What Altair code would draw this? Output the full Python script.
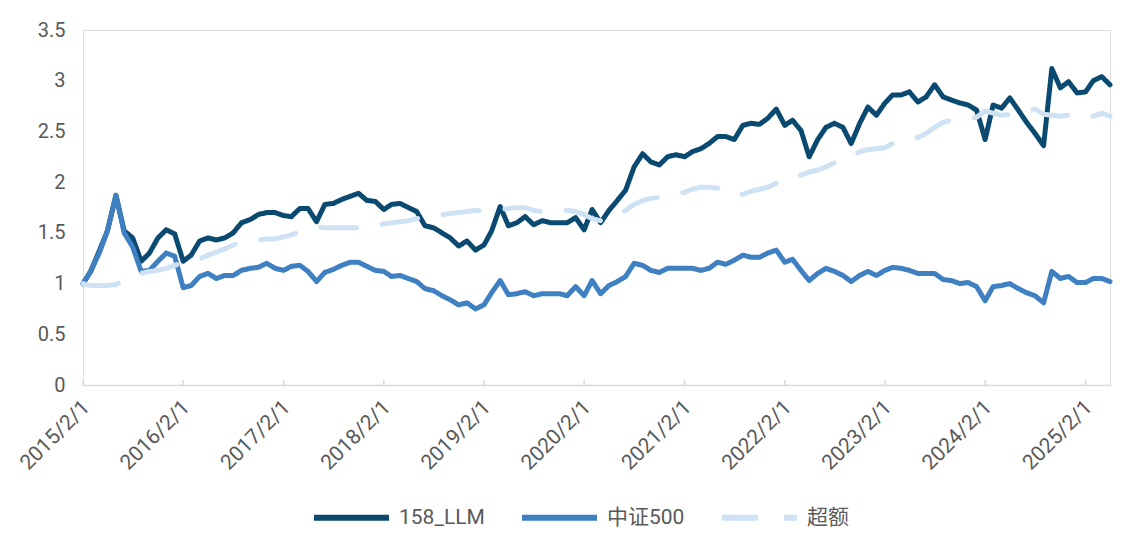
import altair as alt
import pandas as pd

# ---- data ----
start_date = "2015-02-01"
n_months = 124

series_names = ["158_LLM", "中证500", "超额"]
series_colors = ["#0B4A70", "#3F80C2", "#CFE2F3"]
series_dash = [[1, 0], [1, 0], [36, 26]]

llm = [1.00, 1.12, 1.32, 1.52, 1.87, 1.52, 1.45, 1.22, 1.30, 1.45, 1.53, 1.49,
       1.22, 1.28, 1.42, 1.45, 1.43, 1.45, 1.50, 1.60, 1.63, 1.68, 1.70, 1.70,
       1.67, 1.66, 1.74, 1.74, 1.61, 1.78, 1.79, 1.83, 1.86, 1.89, 1.82, 1.81,
       1.73, 1.78, 1.79, 1.75, 1.71, 1.57, 1.55, 1.50, 1.45, 1.37, 1.42, 1.33,
       1.38, 1.52, 1.76, 1.57, 1.60, 1.66, 1.58, 1.62, 1.60, 1.60, 1.60, 1.65,
       1.53, 1.73, 1.60, 1.72, 1.82, 1.92, 2.15, 2.28, 2.20, 2.17, 2.25, 2.27,
       2.25, 2.30, 2.33, 2.38, 2.45, 2.45, 2.42, 2.56, 2.58, 2.57, 2.63, 2.72,
       2.56, 2.61, 2.51, 2.25, 2.42, 2.54, 2.58, 2.54, 2.38, 2.58, 2.74, 2.66,
       2.78, 2.86, 2.86, 2.89, 2.79, 2.84, 2.96, 2.84, 2.81, 2.78, 2.76, 2.71,
       2.42, 2.76, 2.73, 2.83, 2.71, 2.59, 2.48, 2.36, 3.12, 2.93, 2.99, 2.88,
       2.89, 3.00, 3.04, 2.96]

zz500 = [1.00, 1.12, 1.30, 1.52, 1.87, 1.50, 1.36, 1.12, 1.13, 1.22, 1.30, 1.27,
         0.96, 0.98, 1.07, 1.10, 1.05, 1.08, 1.08, 1.13, 1.15, 1.16, 1.20, 1.15,
         1.13, 1.17, 1.18, 1.12, 1.02, 1.11, 1.14, 1.18, 1.21, 1.21, 1.17, 1.13,
         1.12, 1.07, 1.08, 1.05, 1.02, 0.95, 0.93, 0.88, 0.84, 0.79, 0.81, 0.75,
         0.79, 0.91, 1.03, 0.89, 0.90, 0.92, 0.88, 0.90, 0.90, 0.90, 0.88, 0.97,
         0.88, 1.03, 0.90, 0.98, 1.02, 1.07, 1.20, 1.18, 1.13, 1.11, 1.15, 1.15,
         1.15, 1.15, 1.13, 1.15, 1.21, 1.19, 1.23, 1.28, 1.26, 1.26, 1.30, 1.33,
         1.21, 1.24, 1.13, 1.03, 1.10, 1.15, 1.12, 1.08, 1.02, 1.08, 1.12, 1.08,
         1.13, 1.16, 1.15, 1.13, 1.10, 1.10, 1.10, 1.04, 1.03, 1.00, 1.01, 0.97,
         0.83, 0.97, 0.98, 1.00, 0.95, 0.91, 0.88, 0.81, 1.12, 1.05, 1.07, 1.01,
         1.01, 1.05, 1.05, 1.02]

excess = [1.00, 0.98, 0.98, 0.98, 0.99, 1.04, 1.08, 1.10, 1.12, 1.13, 1.15, 1.18,
          1.21, 1.22, 1.24, 1.28, 1.31, 1.34, 1.38, 1.41, 1.42, 1.43, 1.44, 1.44,
          1.46, 1.48, 1.51, 1.54, 1.56, 1.55, 1.55, 1.55, 1.55, 1.55, 1.56, 1.56,
          1.59, 1.60, 1.61, 1.62, 1.64, 1.66, 1.67, 1.68, 1.69, 1.70, 1.71, 1.72,
          1.72, 1.72, 1.73, 1.74, 1.75, 1.75, 1.72, 1.71, 1.71, 1.72, 1.72, 1.71,
          1.68, 1.64, 1.62, 1.65, 1.68, 1.72, 1.78, 1.82, 1.84, 1.85, 1.86, 1.88,
          1.90, 1.93, 1.95, 1.95, 1.94, 1.92, 1.87, 1.88, 1.91, 1.93, 1.95, 1.99,
          2.03, 2.03, 2.07, 2.10, 2.12, 2.15, 2.19, 2.22, 2.25, 2.30, 2.32, 2.33,
          2.34, 2.38, 2.40, 2.44, 2.44, 2.48, 2.54, 2.59, 2.61, 2.61, 2.62, 2.64,
          2.70, 2.68, 2.66, 2.67, 2.69, 2.71, 2.72, 2.67, 2.66, 2.65, 2.66, 2.64,
          2.63, 2.65, 2.68, 2.65]

tick_years = list(range(2015, 2026))
y_ticks = [0, 0.5, 1, 1.5, 2, 2.5, 3, 3.5]

# ---- build table ----
dates = pd.date_range(start_date, periods=n_months, freq="MS")
frames = []
for name, vals in zip(series_names, [llm, zz500, excess]):
    frames.append(pd.DataFrame({"date": dates, "value": vals, "series": name}))
df = pd.concat(frames, ignore_index=True)

ticks_df = pd.DataFrame({"date": pd.to_datetime([f"{y}-02-01" for y in tick_years])})

FONT = "Roboto, 'Noto Sans CJK SC', sans-serif"
GRAY = "#595959"

x_scale = alt.Scale(domain=[alt.DateTime(year=2015, month=2, date=1),
                            alt.DateTime(year=2025, month=5, date=1)])
y_scale = alt.Scale(domain=[0, 3.5], nice=False)

x_enc = alt.X(
    "date:T", scale=x_scale, title=None,
    axis=alt.Axis(
        values=[alt.DateTime(year=y, month=2, date=1) for y in tick_years],
        format="%Y/%-m/%-d", labelAngle=315, labelAlign="right",
        labelBaseline="middle", labelPadding=19, labelOffset=3,
        labelFontSize=21, labelColor=GRAY, labelFont=FONT, ticks=False,
        grid=False, domainColor="#D9D9D9", domainWidth=1.5,
        labelOverlap=False, labelBound=False, labelFlush=False,
    ),
)
y_enc = alt.Y(
    "value:Q", scale=y_scale, title=None,
    axis=alt.Axis(values=y_ticks, format=".1~f", domain=False, ticks=False,
                  tickSize=0, grid=False, labelPadding=18, labelFontSize=20,
                  labelColor=GRAY, labelFont=FONT),
)
color_enc = alt.Color(
    "series:N",
    scale=alt.Scale(domain=series_names, range=series_colors),
    legend=alt.Legend(
        title=None, orient="none", legendX=228, legendY=447,
        direction="horizontal", symbolType="stroke", symbolSize=5625,
        symbolStrokeWidth=6, labelFontSize=21, labelColor=GRAY,
        labelFont=FONT, labelOffset=7, columnPadding=25,
    ),
)
dash_enc = alt.StrokeDash(
    "series:N",
    scale=alt.Scale(domain=series_names, range=series_dash),
    legend=None,
)

base = alt.Chart(df)
layers = []
for name in series_names:
    layers.append(
        base.transform_filter(alt.datum.series == name)
        .mark_line(strokeWidth=5, strokeCap="round", strokeJoin="round")
        .encode(x=x_enc, y=y_enc, color=color_enc, strokeDash=dash_enc)
    )

tick_rules = alt.Chart(ticks_df).mark_rule(color="#D9D9D9", strokeWidth=1.5).encode(
    x=alt.X("date:T", scale=x_scale),
    y=alt.value(355),
    y2=alt.value(350),
)

chart = alt.layer(tick_rules, *layers).properties(
    width=1027, height=355,
    autosize=alt.AutoSizeParams(type="none"),
    padding={"left": 75, "top": 22, "right": 4, "bottom": 146},
).configure_view(stroke=None).configure(background="white")

chart.save("out.html", embed_options={"renderer": "svg", "actions": False})
